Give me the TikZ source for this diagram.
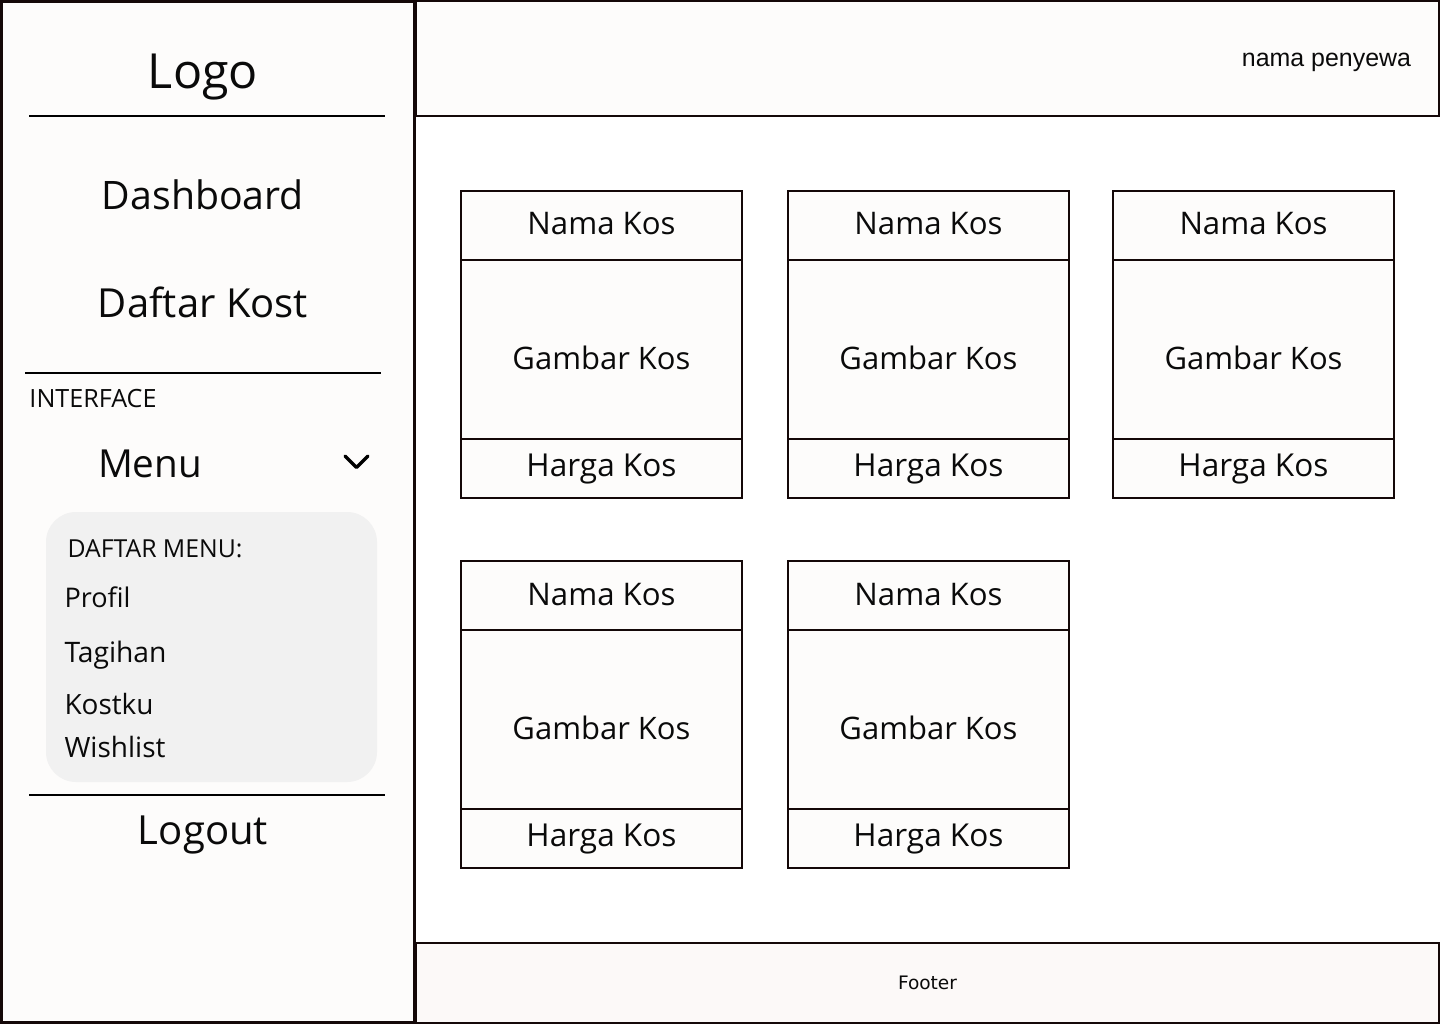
\documentclass[tikz,border=0pt]{standalone}
\usepackage{fontspec}
\setmainfont{Open Sans}
\newfontfamily\arialf{Liberation Sans}
\newfontfamily\dejavuf{DejaVu Sans}
\definecolor{paper}{HTML}{FDFCFB}
\definecolor{footbg}{HTML}{FCF9F8}
\definecolor{edge}{HTML}{140808}
\definecolor{menubg}{HTML}{F1F1F1}
\definecolor{ink}{HTML}{0A0A0A}
\newcommand\fw[2]{\resizebox{#1pt}{!}{#2}}
\begin{document}
\begin{tikzpicture}[x=1pt,y=-1pt,
  lbl/.style={inner sep=0pt, outer sep=0pt, anchor=base, text=ink},
  lblw/.style={lbl, anchor=base west},
  lble/.style={lbl, anchor=base east},
  frame/.style={draw=edge, line width=2.5pt},
  cardpart/.style={draw=edge, line width=2pt},
  rule/.style={draw=black, line width=2pt}]
\useasboundingbox (0,0) rectangle (1440,1024);
\fill[white] (0,0) rectangle (1440,1024);
% sidebar
\draw[frame, fill=paper, line width=3pt] (1.5,1.5) rectangle (414.5,1022.5);
% header
\draw[frame, fill=paper] (416,1.25) rectangle (1438.75,116);
% footer
\draw[frame, fill=footbg] (416,943) rectangle (1438.75,1022.75);
% sidebar content
\node[lbl] (logo) at (203,89) {\fw{110}{Logo}};
\draw[rule] (29,116) -- (385,116);
\node[lbl] (dash) at (203,210) {\fw{202}{Dashboard}};
\node[lbl] (daftar) at (203,317) {\fw{210}{Daftar Kost}};
\draw[rule] (25,373) -- (381,373);
\node[lblw] (iface) at (29.5,407) {\fw{127}{INTERFACE}};
\node[lblw] (menu) at (98,477) {\fw{104}{Menu}};
\draw[line width=3.5pt, line cap=round, line join=round] (345,456) -- (356.5,467.5) -- (368,456);
\fill[menubg, rounded corners=30pt] (46,512) rectangle (377,782);
\node[lblw] (dmenu) at (67.5,557) {\fw{175}{DAFTAR MENU:}};
\node[lblw] (profil) at (64.5,607) {\fw{66}{Profil}};
\node[lblw] (tagihan) at (64.5,662) {\fw{102}{Tagihan}};
\node[lblw] (kostku) at (64.5,714) {\fw{89}{Kostku}};
\node[lblw] (wish) at (64.5,757) {\fw{101}{Wishlist}};
\draw[rule] (29,795) -- (385,795);
\node[lbl] (logout) at (203,844) {\fw{130}{Logout}};
% header text
\node[lble] (nama) at (1411,67) {\arialf\fw{169}{nama penyewa}};
% footer text
\node[lbl] (footer) at (927.5,989) {\dejavuf\fw{59}{Footer}};
% cards
\foreach \x/\y/\n in {461/191/a, 788/191/b, 1113/191/c, 461/561/d, 788/561/e}{
  \draw[cardpart, fill=paper] (\x,\y) rectangle ({\x+281},{\y+307});
  \draw[cardpart] (\x,{\y+69}) -- ({\x+281},{\y+69});
  \draw[cardpart] (\x,{\y+248}) -- ({\x+281},{\y+248});
  \node[lbl] (nama\n) at ({\x+140.5},{\y+44}) {\fw{148}{Nama Kos}};
  \node[lbl] (gambar\n) at ({\x+140.5},{\y+178.3}) {\fw{178}{Gambar Kos}};
  \node[lbl] (harga\n) at ({\x+140.5},{\y+285.7}) {\fw{150}{Harga Kos}};
}
\end{tikzpicture}
\end{document}
